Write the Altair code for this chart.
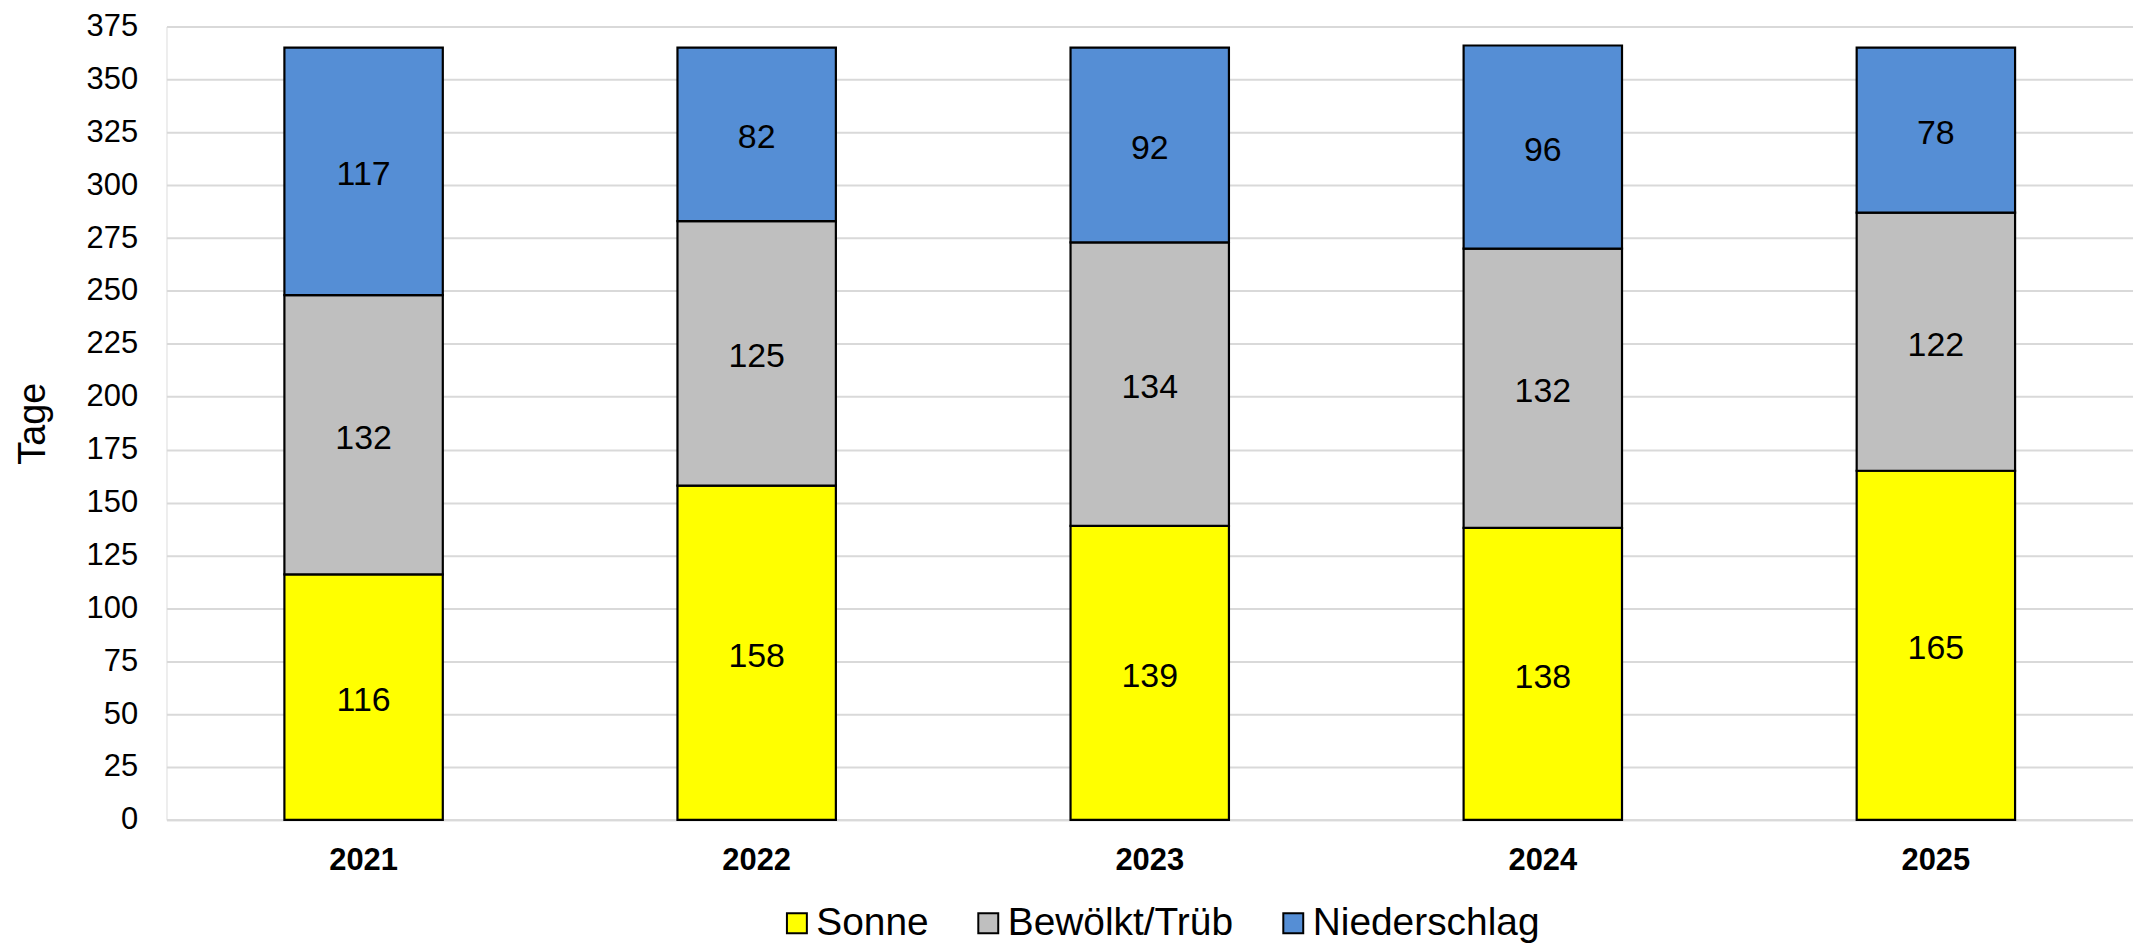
import altair as alt
import pandas as pd

jahre = ["2021", "2022", "2023", "2024", "2025"]
kategorien = ["Sonne", "Bewölkt/Trüb", "Niederschlag"]
sonne = [116, 158, 139, 138, 165]
bewoelkt = [132, 125, 134, 132, 122]
niederschlag = [117, 82, 92, 96, 78]
farben = ["#FFFF00", "#BFBFBF", "#558ED5"]
y_ticks = list(range(0, 376, 25))

rows = []
for i, j in enumerate(jahre):
    for k, (kat, vals) in enumerate(zip(kategorien, [sonne, bewoelkt, niederschlag])):
        rows.append({"Jahr": j, "Kategorie": kat, "Tage": vals[i], "ord": k})
df = pd.DataFrame(rows)

FONT = "Liberation Sans"

base = alt.Chart(df).transform_stack(
    stack="Tage", groupby=["Jahr"], as_=["y0", "y1"], sort=[alt.SortField("ord")]
).transform_calculate(mid="(datum.y0 + datum.y1) / 2")

x_enc = alt.X(
    "Jahr:N",
    sort=jahre,
    title=None,
    scale=alt.Scale(paddingInner=0.597, paddingOuter=0.3),
    axis=alt.Axis(
        labelAngle=0, labelFont=FONT, labelFontSize=31, labelFontWeight="bold",
        labelColor="#000000", labelPadding=26, ticks=False, domain=True,
        domainColor="#D9D9D9", domainWidth=2, grid=False,
    ),
)

bars = base.mark_bar(stroke="#000000", strokeWidth=2.2).encode(
    x=x_enc,
    y=alt.Y(
        "y0:Q",
        scale=alt.Scale(domain=[0, 375], nice=False),
        axis=alt.Axis(
            values=y_ticks, title="Tage", titleFont=FONT, titleFontSize=38,
            titleFontWeight="normal", titleColor="#000000", titleX=-133, titleY=398,
            titleAngle=270, titleBaseline="middle", titleAlign="center",
            labelFont=FONT, labelFontSize=31, labelColor="#000000", labelPadding=29,
            ticks=False, domain=False, grid=True, gridColor="#D9D9D9", gridWidth=2,
        ),
    ),
    y2="y1:Q",
    color=alt.Color(
        "Kategorie:N",
        sort=kategorien,
        scale=alt.Scale(domain=kategorien, range=farben),
        legend=alt.Legend(
            title=None, orient="none", direction="horizontal", legendX=613, legendY=880,
            labelFont=FONT, labelFontSize=39, labelColor="#000000", labelOffset=0,
            labelLimit=0, symbolType="square", symbolSize=400, symbolStrokeColor="#000000",
            symbolStrokeWidth=2, symbolOpacity=1, columnPadding=40, padding=0,
        ),
    ),
    order=alt.Order("ord:Q"),
)

labels = base.mark_text(font=FONT, fontSize=34, color="#000000", baseline="middle", dy=4).encode(
    x=alt.X("Jahr:N", sort=jahre),
    y=alt.Y("mid:Q"),
    text=alt.Text("Tage:Q"),
)

chart = alt.layer(bars, labels).properties(
    width=1973,
    height=796,
    padding={"left": 159, "top": 17, "right": 0, "bottom": 122},
    autosize=alt.AutoSizeParams(type="none"),
).configure_view(stroke=None).configure(background="#FFFFFF")

chart.save("out.html", embed_options={"renderer": "svg", "actions": False})
